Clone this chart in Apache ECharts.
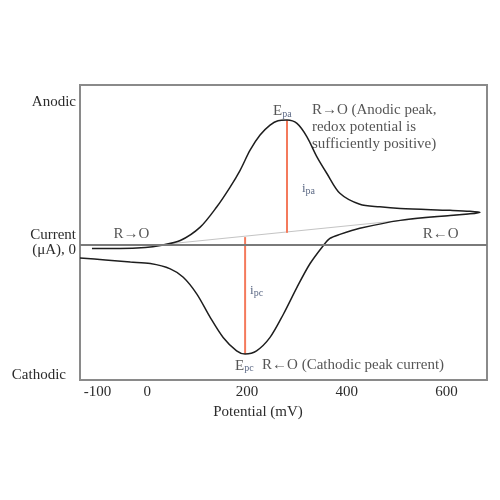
<!DOCTYPE html>
<html><head><meta charset="utf-8">
<script src="https://cdn.jsdelivr.net/npm/echarts@6/dist/echarts.min.js"></script>
<style>html,body{margin:0;padding:0;background:#fff}#c{width:500px;height:500px}</style>
</head><body><div id="c"></div>
<script>
// Potential (mV) and current (arbitrary μA units)
const forwardV = [-111,-55,-4,26,66,106,139,166,186,206,226,246,262,280,300,320,340,360,386,426,466,507,607,647,667];
const forwardI = [-2.5,-2.5,-1.9,-0.6,2.5,10.9,23.5,36.0,46.5,59.1,68.6,74.8,77.6,78.0,75.9,67.5,54.9,44.5,32.1,25.2,23.6,22.6,21.4,20.8,20.1];
const reverseV = [667,647,607,507,426,386,366,353,326,300,273,246,219,196,179,152,126,99,72,46,6,-34,-84,-135];
const reverseI = [20.1,19.2,18.2,15.1,10.1,6.3,3.8,-0.6,-12.1,-26.9,-43.6,-58.3,-66.7,-68.7,-66.7,-58.3,-45.7,-31.0,-20.6,-15.3,-12.0,-11.0,-9.7,-8.5];
const baselineV = [32, 667];
const baselineI = [0, 20.1];
const ipaV = [280, 280];
const ipaI = [7.3, 78.0];
const ipcV = [196, 196];
const ipcI = [4.6, -68.7];
const xTicks = [-100, 0, 200, 400, 600];
const yTickValues = [-82, 1.5, 89];
const yTickLabels = ['Cathodic', 'Current\n(μA), 0', 'Anodic'];
const annoText = ['{e|E}{s|pa}', 'R→O (Anodic peak,\nredox potential is\nsufficiently positive)', '{i|i}{s|pa}', 'R→O', 'R←O', '{i|i}{s|pc}', '{e|E}{s|pc}', 'R←O (Cathodic peak current)'];
const annoV = [252, 330, 310, -68, 552, 206, 176, 230];
const annoI = [83.5, 73.6, 35, 6.3, 6.3, -28.9, -76.1, -75.5];

const zip = (a, b) => a.map((v, i) => [v, b[i]]);
const FONT = '"Liberation Serif","DejaVu Serif",serif';
const TXT = '#2b2b2b';

const chart = echarts.init(document.getElementById('c'), null, {renderer: 'canvas'});
chart.setOption({
  animation: false,
  backgroundColor: '#fff',
  grid: {left: 80, right: 13, top: 85, bottom: 120, show: true, borderColor: '#8a8a8a', borderWidth: 2, backgroundColor: 'transparent'},
  xAxis: {
    type: 'value', min: -135, max: 681,
    axisLine: {show: false}, axisTick: {show: false}, splitLine: {show: false},
    axisLabel: {customValues: xTicks, fontFamily: FONT, fontSize: 15, color: TXT, margin: 5},
    name: 'Potential (mV)', nameLocation: 'middle', nameGap: 25,
    nameTextStyle: {fontFamily: FONT, fontSize: 15, color: TXT, padding: [0, 51, 0, 0], verticalAlign: 'top'}
  },
  yAxis: {
    type: 'value', min: -85, max: 100,
    axisLine: {show: false}, axisTick: {show: false}, splitLine: {show: false},
    axisLabel: {
      customValues: yTickValues, margin: 4,
      formatter: (v) => {
        const i = yTickValues.indexOf(v);
        return i === 0 ? '{c|' + yTickLabels[i] + '}' : yTickLabels[i];
      },
      fontFamily: FONT, fontSize: 15, color: TXT, lineHeight: 15,
      rich: {c: {fontFamily: FONT, fontSize: 15, color: TXT, padding: [0, 10, 0, 0]}}
    }
  },
  series: [
    {type: 'line', data: zip(baselineV, baselineI), symbol: 'none', lineStyle: {color: '#c4c4c4', width: 1}, z: 2},
    {type: 'line', data: zip(forwardV, forwardI).concat(zip(reverseV, reverseI).slice(1)), symbol: 'none', smooth: 0.3,
      lineStyle: {color: '#1e1e1e', width: 1.5}, z: 4,
      markLine: {silent: true, symbol: 'none', label: {show: false}, lineStyle: {color: '#7a7a7a', width: 2, type: 'solid'}, data: [{yAxis: 0}]}},
    {type: 'line', data: zip(ipaV, ipaI), symbol: 'none', lineStyle: {color: '#f47a5c', width: 2}, z: 3},
    {type: 'line', data: zip(ipcV, ipcI), symbol: 'none', lineStyle: {color: '#f47a5c', width: 2}, z: 3},
    {type: 'scatter', symbolSize: 0, z: 6,
      data: annoText.map((t, i) => ({value: [annoV[i], annoI[i]], label: {formatter: t}})),
      label: {show: true, position: 'right', distance: 0, fontFamily: FONT, fontSize: 15, color: TXT, lineHeight: 17, align: 'left',
        rich: {
          e: {fontFamily: FONT, fontSize: 15, color: TXT},
          i: {fontFamily: FONT, fontSize: 13, color: '#334466'},
          s: {fontFamily: FONT, fontSize: 10, color: '#334466', padding: [6, 0, 0, 0]}
        }}
    }
  ]
});
</script></body></html>
